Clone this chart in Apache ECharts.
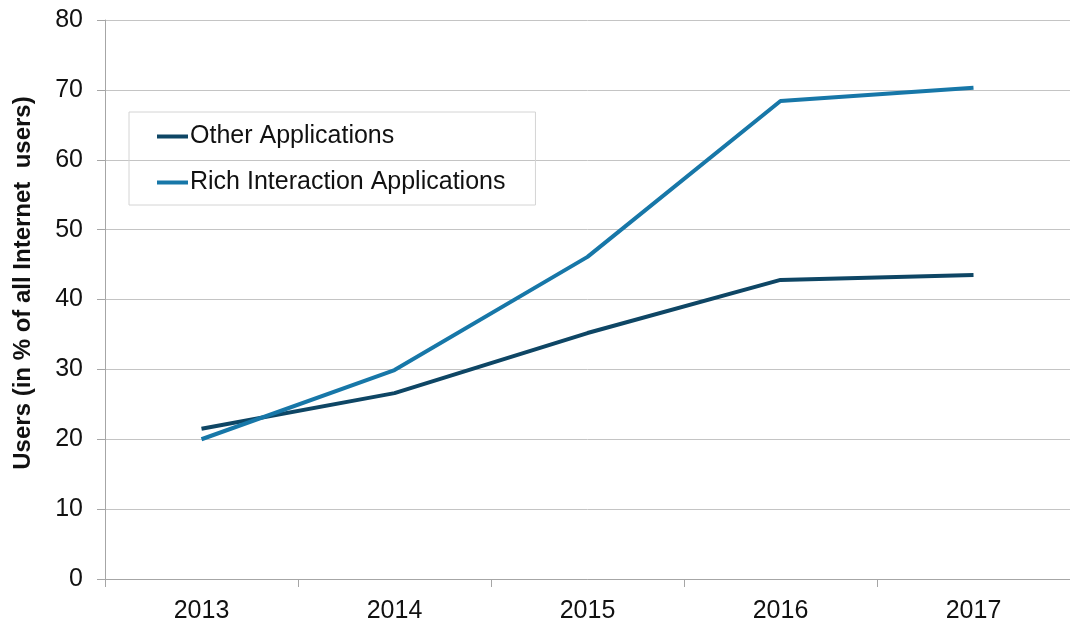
<!DOCTYPE html>
<html>
<head>
<meta charset="utf-8">
<script src="https://cdn.jsdelivr.net/npm/echarts@6/dist/echarts.min.js"></script>
<style>
html, body { margin: 0; padding: 0; background: #fff; }
#chart { width: 1070px; height: 626px; }
</style>
</head>
<body>
<div id="chart"></div>
<script>
var years = ['2013', '2014', '2015', '2016', '2017'];
var otherApps = [21.5, 26.6, 35.2, 42.8, 43.5];
var richApps = [20.0, 29.9, 46.1, 68.4, 70.3];

var chart = echarts.init(document.getElementById('chart'));
var font = '"Liberation Sans", Arial, sans-serif';

var option = {
    animation: false,
    grid: {
        left: 105,
        top: 20,
        width: 976,
        height: 559,
        containLabel: false
    },
    legend: {
        orient: 'vertical',
        left: 129,
        top: 112,
        padding: [12, 30, 10, 28],
        itemGap: 21,
        itemWidth: 31,
        itemHeight: 4,
        icon: 'rect',
        borderColor: '#d4d4d4',
        borderWidth: 1,
        textStyle: {
            fontFamily: font,
            fontSize: 25,
            color: '#111',
            padding: [0, 0, 0, -3]
        },
        data: ['Other Applications', 'Rich Interaction Applications']
    },
    color: ['#0e4665', '#1777a8'],
    xAxis: {
        type: 'category',
        data: years,
        boundaryGap: true,
        axisLine: { lineStyle: { color: '#a6a6a6', width: 1 } },
        axisTick: { show: true, length: 8, lineStyle: { color: '#a6a6a6' } },
        axisLabel: { fontFamily: font, fontSize: 25, color: '#111', margin: 20 }
    },
    yAxis: {
        type: 'value',
        min: 0,
        max: 80,
        interval: 10,
        name: 'Users (in % of all Internet  users)',
        nameLocation: 'middle',
        nameGap: 70,
        nameTextStyle: {
            fontFamily: font, fontSize: 24, fontWeight: 'bold', color: '#111',
            padding: [0, 0, 0, 33]
        },
        axisLine: { show: true, lineStyle: { color: '#a6a6a6', width: 1 } },
        axisTick: { show: true, length: 8, lineStyle: { color: '#a6a6a6' } },
        axisLabel: { fontFamily: font, fontSize: 25, color: '#111', margin: 22 },
        splitLine: { lineStyle: { color: '#c4c4c4', width: 1 } }
    },
    series: [
        {
            name: 'Other Applications',
            type: 'line',
            data: otherApps,
            symbol: 'none',
            lineStyle: { width: 4 }
        },
        {
            name: 'Rich Interaction Applications',
            type: 'line',
            data: richApps,
            symbol: 'none',
            lineStyle: { width: 4 }
        }
    ]
};

chart.setOption(option);
</script>
</body>
</html>
